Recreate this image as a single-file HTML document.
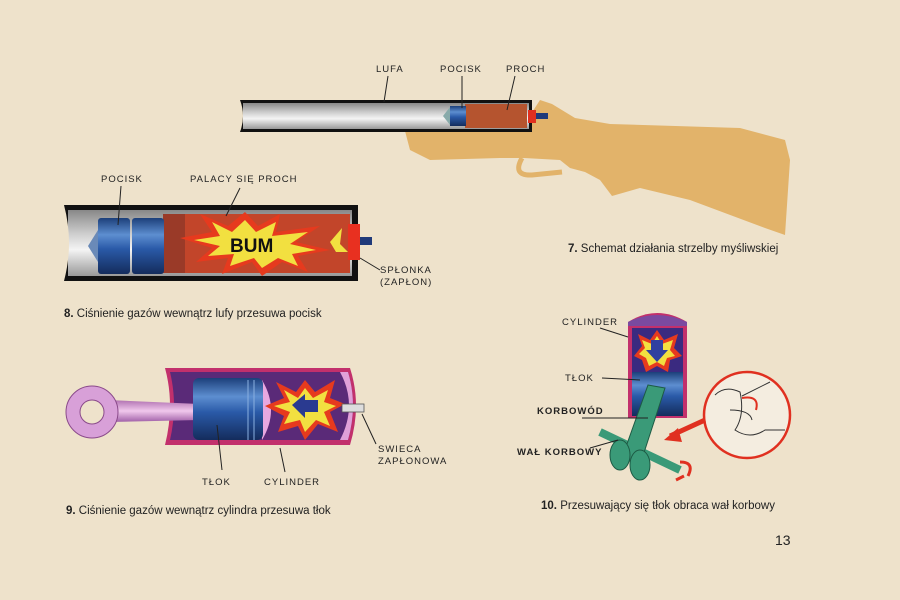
<!DOCTYPE html>
<html><head><meta charset="utf-8"><style>
html,body{margin:0;padding:0;background:#eee2cb;}
svg{display:block}
text{font-family:"Liberation Sans",sans-serif;fill:#222;}
.l{font-size:9.5px;letter-spacing:1px}
.c{font-size:11.5px}
</style></head><body>
<svg width="900" height="600" viewBox="0 0 900 600" xmlns="http://www.w3.org/2000/svg">
<rect width="900" height="600" fill="#eee2cb"/>
<defs>
<linearGradient id="steel" x1="0" y1="0" x2="0" y2="1"><stop offset="0" stop-color="#888"/><stop offset=".35" stop-color="#ccc"/><stop offset=".6" stop-color="#f4f4f4"/><stop offset="1" stop-color="#999"/></linearGradient>
<linearGradient id="blue" x1="0" y1="0" x2="0" y2="1"><stop offset="0" stop-color="#1c3f7a"/><stop offset=".3" stop-color="#5d8ed0"/><stop offset=".55" stop-color="#2a5aa8"/><stop offset="1" stop-color="#142c5c"/></linearGradient>
<linearGradient id="pink" x1="0" y1="0" x2="0" y2="1"><stop offset="0" stop-color="#b070b0"/><stop offset=".5" stop-color="#f0c8ec"/><stop offset="1" stop-color="#a060a8"/></linearGradient>
</defs>

<!-- Fig 7: gun -->
<path d="M405,131 L520,131 L540,100 L552,104 L575,118 L610,124 L740,128 L785,140 L790,160 L785,235 L765,228 L690,200 L640,188 L612,196 L600,180 L585,172 L570,168 L560,160 L524,158 L500,158 L430,160 L410,150 Z" fill="#e2b36a"/>
<path d="M522,158 Q512,176 532,175 L562,172" fill="none" stroke="#e2b36a" stroke-width="5"/>
<rect x="240" y="100" width="292" height="32" fill="#111"/>
<rect x="243" y="103" width="286" height="26" fill="url(#steel)"/>
<rect x="465" y="104" width="62" height="24" fill="#b5542f"/>
<rect x="450" y="106" width="16" height="20" fill="url(#blue)"/>
<path d="M450,107 L443,116 L450,125 Z" fill="#8aa"/>
<rect x="528" y="110" width="8" height="13" fill="#e03020"/>
<rect x="536" y="113" width="12" height="6" fill="#203a7a"/>
<path d="M240,100 Q246,116 240,132" fill="#eee2cb"/>
<text x="376" y="72" class="l">LUFA</text>
<text x="440" y="72" class="l">POCISK</text>
<text x="506" y="72" class="l">PROCH</text>
<path d="M388,76 L384,102 M462,76 L462,108 M515,76 L507,110" stroke="#222" stroke-width="1" fill="none"/>
<text x="568" y="252" class="c"><tspan font-weight="bold">7.</tspan> Schemat działania strzelby myśliwskiej</text>

<!-- Fig 8 -->
<rect x="64" y="205" width="294" height="76" fill="#111"/>
<rect x="68" y="210" width="284" height="66" fill="url(#steel)"/>
<rect x="163" y="214" width="187" height="59" fill="#c2452a"/>
<rect x="163" y="214" width="22" height="59" fill="#9a3a28"/>
<path d="M64,205 Q74,243 64,281 L60,281 L60,205Z" fill="#eee2cb"/>
<rect x="98" y="218" width="32" height="56" rx="3" fill="url(#blue)"/>
<rect x="132" y="218" width="32" height="56" rx="3" fill="url(#blue)"/>
<path d="M98,230 L88,246 L98,262 Z" fill="#6a8ab8"/>
<path d="M245,212 L258,226 L280,214 L276,232 L320,226 L296,242 L330,250 L298,256 L308,272 L282,262 L262,276 L252,262 L222,274 L228,258 L196,262 L212,248 L180,238 L212,232 L200,214 L228,226 Z" fill="#e63a1e"/>
<path d="M245,220 L256,232 L276,222 L272,236 L308,232 L290,244 L316,250 L292,254 L298,266 L278,258 L262,268 L254,258 L230,266 L234,254 L208,256 L220,246 L194,240 L220,236 L212,222 L232,232 Z" fill="#f2e040"/>
<text x="230" y="252" font-size="19" font-weight="bold" style="fill:#111;font-family:'Liberation Sans',sans-serif">BUM</text>
<path d="M330,242 L342,228 L340,244 L348,252 L336,252 Z" fill="#f2e040"/>
<rect x="348" y="224" width="12" height="36" fill="#e83020"/>
<rect x="360" y="237" width="12" height="8" fill="#203a7a"/>
<text x="101" y="182" class="l">POCISK</text>
<text x="190" y="182" class="l">PALACY SIĘ PROCH</text>
<path d="M121,186 L118,225 M240,188 L226,216 M360,258 L380,270" stroke="#222" fill="none"/>
<text x="380" y="273" class="l">SPŁONKA</text>
<text x="380" y="285" class="l">(ZAPŁON)</text>
<text x="64" y="317" class="c"><tspan font-weight="bold">8.</tspan> Ciśnienie gazów wewnątrz lufy przesuwa pocisk</text>

<!-- Fig 9 -->
<path d="M165,368 L350,368 Q362,405 350,445 L165,445 Q175,405 165,368Z" fill="#c2306c"/>
<path d="M170,372 L348,372 Q358,405 348,440 L170,440 Q178,405 170,372Z" fill="#5a2a78"/>
<path d="M340,372 Q358,405 340,440 L348,440 Q358,405 348,372Z" fill="#e0a0d8"/>
<path d="M108,400 L200,404 L200,420 L108,422 Z" fill="url(#pink)"/>
<circle cx="92" cy="412" r="26" fill="#d8a0d8" stroke="#8a4a8a"/>
<circle cx="92" cy="412" r="12" fill="#eee2cb" stroke="#8a4a8a"/>
<path d="M262,380 Q280,410 262,440 Z" fill="#e8a8e0"/>
<rect x="193" y="378" width="70" height="62" rx="6" fill="url(#blue)"/>
<path d="M248,380 L248,440 M254,380 L254,440" stroke="#8ab0e0" stroke-width="1"/>
<path d="M305,380 L315,392 L335,380 L330,398 L345,404 L330,412 L338,432 L318,424 L305,440 L298,426 L278,432 L284,416 L265,406 L284,398 L276,382 L296,392 Z" fill="#e63a1e"/>
<path d="M305,388 L313,398 L328,390 L324,402 L336,406 L324,412 L330,426 L316,420 L305,432 L300,420 L284,424 L290,412 L274,406 L290,402 L284,390 L298,398 Z" fill="#f2e040"/>
<path d="M292,405 L305,394 L305,400 L318,400 L318,412 L305,412 L305,418 Z" fill="#2a3a90"/>
<rect x="342" y="404" width="22" height="8" fill="#ddd" stroke="#555" stroke-width=".8"/>
<text x="202" y="485" class="l">TŁOK</text>
<text x="264" y="485" class="l">CYLINDER</text>
<text x="378" y="452" class="l">SWIECA</text>
<text x="378" y="464" class="l">ZAPŁONOWA</text>
<path d="M217,425 L222,470 M280,448 L285,472 M362,414 L376,444" stroke="#222" fill="none"/>
<text x="66" y="514" class="c"><tspan font-weight="bold">9.</tspan> Ciśnienie gazów wewnątrz cylindra przesuwa tłok</text>

<!-- Fig 10 -->
<path d="M628,418 L628,322 Q657,304 687,322 L687,418 Z" fill="#c2306c"/>
<path d="M628,322 Q657,308 687,322 L687,326 L628,326 Z" fill="#7a4aa0"/>
<rect x="632" y="328" width="51" height="87" fill="#3a2a80"/>
<path d="M657,330 L664,340 L678,334 L674,348 L682,356 L670,360 L668,372 L657,366 L646,372 L642,360 L634,356 L642,346 L638,334 L650,340 Z" fill="#e63a1e"/>
<path d="M657,336 L662,344 L673,340 L670,350 L675,356 L667,358 L664,366 L657,362 L649,366 L646,358 L639,354 L645,348 L642,340 L652,344 Z" fill="#f2e040"/>
<path d="M651,340 L663,340 L663,350 L668,350 L657,362 L646,350 L651,350 Z" fill="#3040a0"/>
<rect x="632" y="372" width="51" height="44" fill="url(#blue)"/>
<path d="M600,432 L680,470" stroke="#3a9a78" stroke-width="8"/>
<path d="M648,385 L665,388 L640,465 L622,458 Z" fill="#3a9a78" stroke="#1d5a44"/>
<ellipse cx="620" cy="455" rx="10" ry="15" fill="#3a9a78" stroke="#1d5a44"/>
<ellipse cx="640" cy="465" rx="10" ry="15" fill="#3a9a78" stroke="#1d5a44"/>
<path d="M680,462 Q695,462 688,476 M676,480 L684,476" stroke="#e03020" stroke-width="3" fill="none"/>
<circle cx="747" cy="415" r="43" fill="#f4ede0" stroke="#e03020" stroke-width="2.5"/>
<path d="M715,395 Q725,385 740,392 Q745,415 735,430 Q750,440 765,430 L785,430 M730,410 Q750,410 752,420 M742,396 L770,382" stroke="#333" fill="none" stroke-width="1"/>
<path d="M742,398 Q760,395 756,410" stroke="#e03020" stroke-width="2" fill="none"/>
<path d="M705,420 L670,436" stroke="#e03020" stroke-width="5"/>
<path d="M664,440 L678,428 L682,442 Z" fill="#e03020"/>
<text x="562" y="325" class="l">CYLINDER</text>
<text x="565" y="381" class="l">TŁOK</text>
<text x="537" y="414" class="l" font-weight="bold">KORBOWÓD</text>
<text x="517" y="455" class="l" font-weight="bold">WAŁ KORBOWY</text>
<path d="M600,328 L628,337 M602,378 L640,380 M582,418 L648,418 M590,448 L618,440" stroke="#222" fill="none"/>
<text x="541" y="509" class="c"><tspan font-weight="bold">10.</tspan> Przesuwający się tłok obraca wał korbowy</text>
<text x="775" y="545" font-size="14">13</text>
</svg>
</body></html>
